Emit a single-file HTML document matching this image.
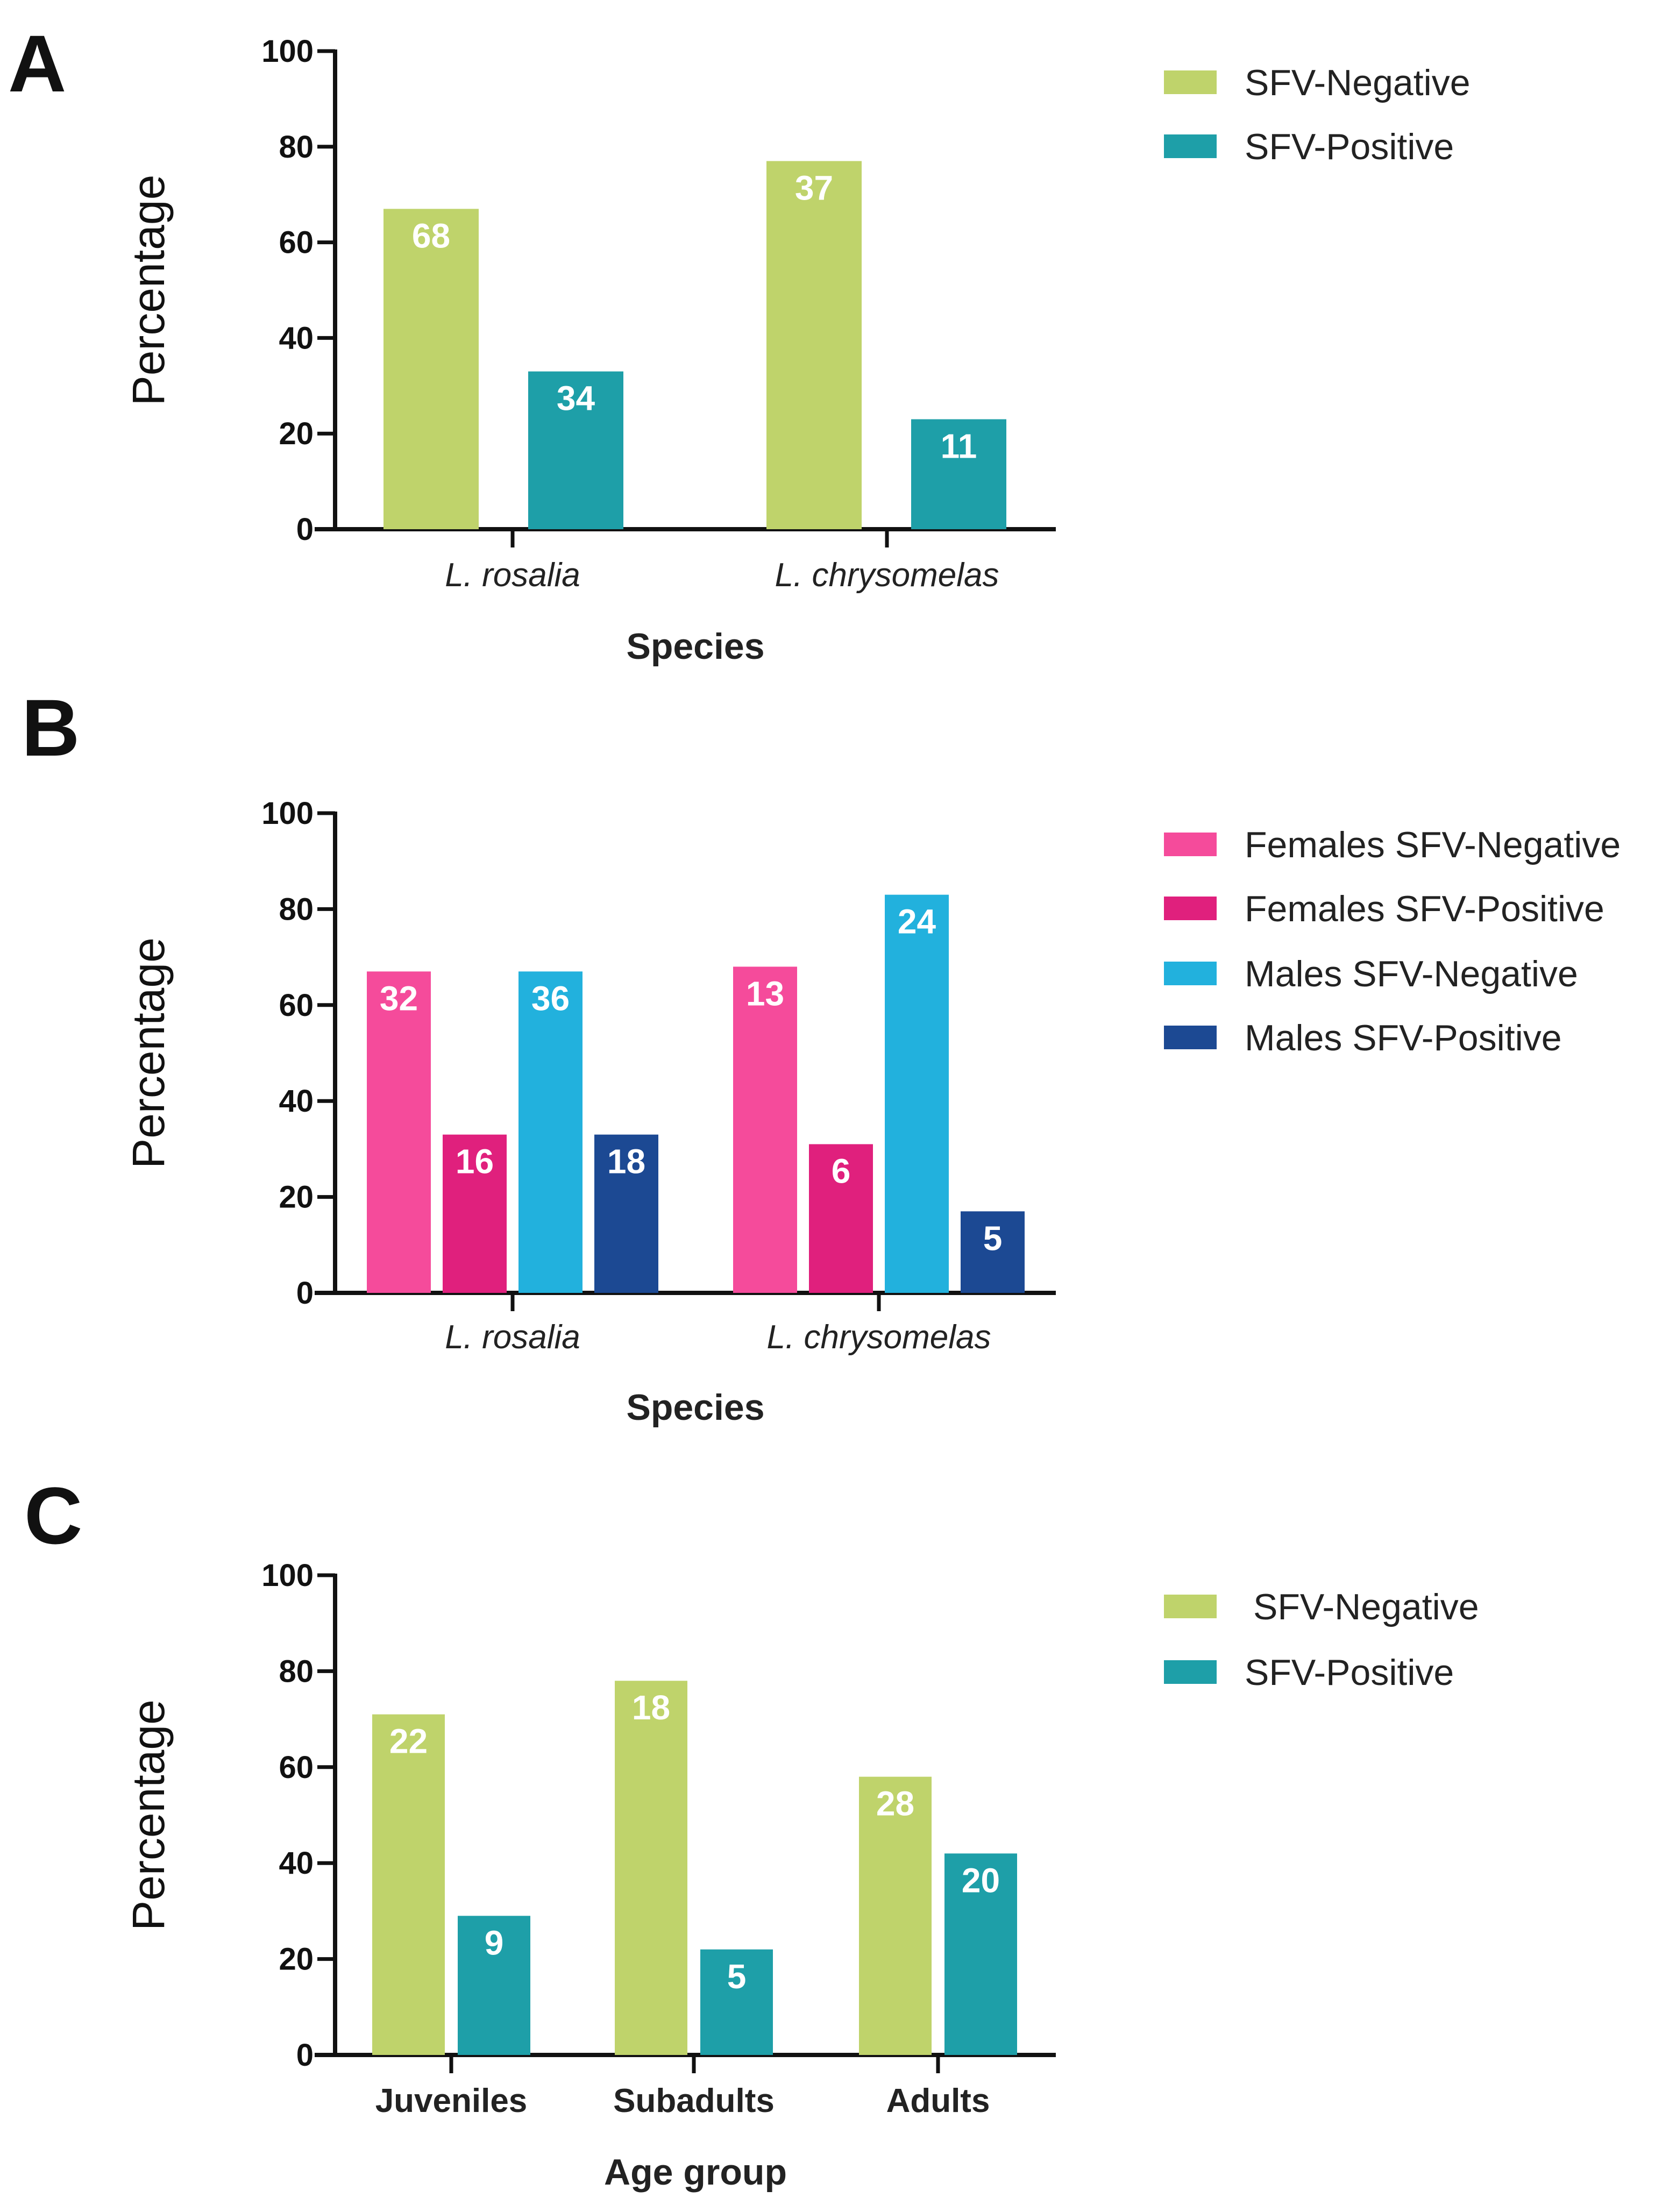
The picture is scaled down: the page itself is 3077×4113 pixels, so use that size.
<!DOCTYPE html>
<html><head><meta charset="utf-8"><style>
html,body{margin:0;padding:0;background:#fff;}
svg{display:block;}
text{font-family:"Liberation Sans",sans-serif;}
.n{font-family:"Liberation Sans Narrow","Liberation Sans",sans-serif;}
</style></head><body>
<svg id="fig" width="3077" height="4113" viewBox="0 0 3077 4113" xmlns="http://www.w3.org/2000/svg"></svg>
<script>
// Panel A data
const catsA = ["L. rosalia", "L. chrysomelas"];
const negA = [67, 77];
const posA = [33, 23];
const negALabels = ["68", "37"];
const posALabels = ["34", "11"];
// Panel B data
const catsB = ["L. rosalia", "L. chrysomelas"];
const femNegB = [67, 68];
const femPosB = [33, 31];
const maleNegB = [67, 83];
const malePosB = [33, 17];
const femNegBLabels = ["32", "13"];
const femPosBLabels = ["16", "6"];
const maleNegBLabels = ["36", "24"];
const malePosBLabels = ["18", "5"];
// Panel C data
const catsC = ["Juveniles", "Subadults", "Adults"];
const negC = [71, 78, 58];
const posC = [29, 22, 42];
const negCLabels = ["22", "18", "28"];
const posCLabels = ["9", "5", "20"];
const yTicks = [0, 20, 40, 60, 80, 100];

const NS = "http://www.w3.org/2000/svg";
const svg = document.getElementById("fig");
function mk(tag, attrs, parent, txt){
  const e = document.createElementNS(NS, tag);
  for (const k in attrs) e.setAttribute(k, attrs[k]);
  if (txt !== undefined) e.textContent = txt;
  (parent || svg).appendChild(e);
  return e;
}
const C = {green:"#bfd36b", teal:"#1e9fa8", pink:"#f54b9b", mag:"#e0207d", cyan:"#22b1dd", navy:"#1c4993"};

function panel(cfg){
  const g = mk("g", {});
  
  
  const y = v => cfg.y0 - (cfg.y0 - cfg.y100) * v / 100;
  const L = mk("text", {x: cfg.letterX, y: cfg.letterY, "font-size": 150, "font-weight": "bold", fill: "#111"}, g, cfg.letter);
  
  
  const ax = mk("line", {x1: 623, y1: cfg.y100 - 3, x2: 623, y2: cfg.y0 + 4, stroke: "#111", "stroke-width": 8}, g);
  
  
  const xa = mk("line", {x1: 585, y1: cfg.y0, x2: 1963, y2: cfg.y0, stroke: "#111", "stroke-width": 8}, g);
  
  
  yTicks.forEach(t => {
    const tl = mk("line", {x1: 590, y1: y(t), x2: 623, y2: y(t), stroke: "#111", "stroke-width": 7}, g);
    
    
    const tt = mk("text", {x: 583, y: y(t) + 20, "font-size": 58, "font-weight": "bold", "text-anchor": "end", fill: "#111", class: "n"}, g, String(t));
    
    
  });
  const yt = mk("text", {x: 0, y: 0, "font-size": 84, "text-anchor": "middle", fill: "#111", transform: `translate(${cfg.ytX},${(cfg.y0 + cfg.y100) / 2}) rotate(-90)`}, g, "Percentage");
  
  
  cfg.cats.forEach((c, i) => {
    const cx = cfg.catX[i];
    const gx = cfg.groupX ? cfg.groupX[i] : cx;
    const tk = mk("line", {x1: cx, y1: cfg.y0, x2: cx, y2: cfg.y0 + 34, stroke: "#111", "stroke-width": 7}, g);
    
    
    const ct = mk("text", {x: cx, y: cfg.catY, "font-size": 62, "text-anchor": "middle", fill: "#222", "font-style": cfg.italic ? "italic" : "normal", "font-weight": cfg.italic ? "normal" : "bold", class: "n"}, g, c);
    
    
    const n = cfg.series.length;
    const step = cfg.barW + cfg.gap;
    const start = gx - (n * cfg.barW + (n - 1) * cfg.gap) / 2;
    cfg.series.forEach((s, j) => {
      const bx = start + j * step;
      const v = s.vals[i];
      const r = mk("rect", {x: bx, y: y(v), width: cfg.barW, height: cfg.y0 - y(v), fill: s.color}, g);
      
      
      const lt = mk("text", {x: bx + cfg.barW / 2, y: y(v) + 72, "font-size": 64, "font-weight": "bold", "text-anchor": "middle", fill: "#fff", class: "n"}, g, s.labels[i]);
      
      
    });
  });
  const xt = mk("text", {x: 1293, y: cfg.xtY, "font-size": 68, "font-weight": "bold", "text-anchor": "middle", fill: "#222"}, g, cfg.xTitle);
  
  
  cfg.series.forEach((s, j) => {
    const ly = cfg.legY[j];
    const sw = mk("rect", {x: 2164, y: ly - 22, width: 98, height: 44, fill: s.color}, g);
    
    
    const lt = mk("text", {x: s.lx || 2314, y: ly + 24, "font-size": 68, fill: "#222"}, g, s.name);
    
    
  });
}

panel({name: "panel-a", letter: "A", letterX: 15, letterY: 170, y100: 95, y0: 984, ytX: 305,
  cats: catsA, catX: [953, 1649], groupX: [936, 1648], catY: 1090, italic: true, barW: 177, gap: 92, xTitle: "Species", xtY: 1225,
  series: [
    {key: "neg", name: "SFV-Negative", color: C.green, vals: negA, labels: negALabels},
    {key: "pos", name: "SFV-Positive", color: C.teal, vals: posA, labels: posALabels}],
  legY: [153, 272]});

panel({name: "panel-b", letter: "B", letterX: 40, letterY: 1405, y100: 1512, y0: 2404, ytX: 305,
  cats: catsB, catX: [953, 1634], catY: 2507, italic: true, barW: 119, gap: 22, xTitle: "Species", xtY: 2640,
  series: [
    {key: "fneg", name: "Females SFV-Negative", color: C.pink, vals: femNegB, labels: femNegBLabels},
    {key: "fpos", name: "Females SFV-Positive", color: C.mag, vals: femPosB, labels: femPosBLabels},
    {key: "mneg", name: "Males SFV-Negative", color: C.cyan, vals: maleNegB, labels: maleNegBLabels},
    {key: "mpos", name: "Males SFV-Positive", color: C.navy, vals: malePosB, labels: malePosBLabels}],
  legY: [1570, 1689, 1810, 1929]});

panel({name: "panel-c", letter: "C", letterX: 45, letterY: 2870, y100: 2929, y0: 3821, ytX: 305,
  cats: catsC, catX: [839, 1290, 1744], catY: 3927, italic: false, barW: 135, gap: 24, xTitle: "Age group", xtY: 4062,
  series: [
    {key: "neg", name: "SFV-Negative", color: C.green, vals: negC, labels: negCLabels, lx: 2330},
    {key: "pos", name: "SFV-Positive", color: C.teal, vals: posC, labels: posCLabels}],
  legY: [2987, 3109]});
</script>
</body></html>
